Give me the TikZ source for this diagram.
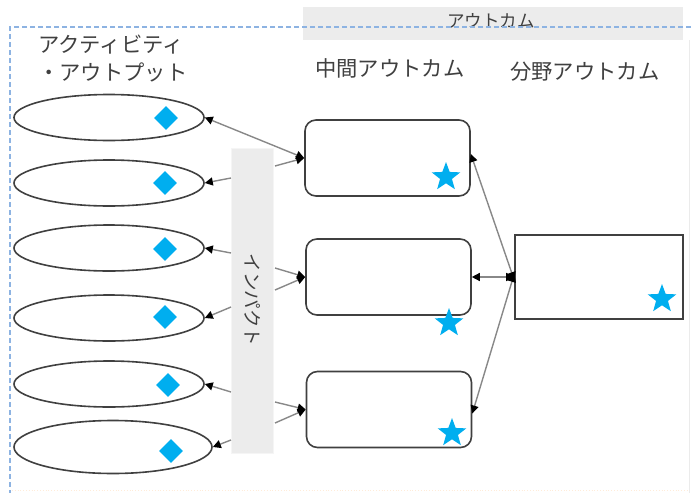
\documentclass[tikz,border=0pt]{standalone}
\usepackage{fontspec}
\newfontfamily\jp{Noto Sans CJK JP}
\usetikzlibrary{shapes.geometric,arrows.meta}
\definecolor{txt}{HTML}{404040}
\definecolor{edge}{HTML}{404040}
\definecolor{conn}{HTML}{888888}
\definecolor{cyanmark}{HTML}{00AEEF}
\definecolor{barfill}{HTML}{ECECEC}
\definecolor{dashblue}{HTML}{8DB3E2}
\tikzset{
  act/.style={ellipse, draw=edge, line width=1.6pt, minimum width=190pt, minimum height=46pt, inner sep=0pt},
  midbox/.style={rectangle, rounded corners=11pt, draw=edge, line width=1.6pt, minimum width=165pt, minimum height=76pt, inner sep=0pt},
  fieldbox/.style={rectangle, draw=edge, line width=1.6pt, minimum width=168pt, minimum height=84pt, inner sep=0pt},
  dmark/.style={diamond, fill=cyanmark, minimum width=24pt, minimum height=24pt, inner sep=0pt},
  smark/.style={star, star points=5, star point ratio=2.4, fill=cyanmark, minimum size=30pt, inner sep=0pt},
  lbl/.style={font=\jp\fontsize{21.3pt}{26pt}\selectfont, text=txt, inner sep=0pt},
  conline/.style={draw=conn, line width=1.4pt},
  tip/.style={-{Triangle[length=8pt,width=8pt,black]}},
  bitip/.style={{Triangle[length=8pt,width=8pt,black]}-{Triangle[length=8pt,width=8pt,black]}},
}
\begin{document}
\begin{tikzpicture}[x=1pt,y=-1pt]
\useasboundingbox (0,0) rectangle (691,493);
\fill[white] (0,0) rectangle (691,493);
% top outcome bar
\node[fill=barfill, minimum width=380pt, minimum height=33pt, inner sep=0pt] (topbar) at (493,23) {};
\node[font=\jp\fontsize{17.5pt}{20pt}\selectfont, text=txt, inner sep=0pt] (toplbl) at (491,21) {アウトカム};
% faint outer borders
\draw[draw=black!8, line width=0.8pt] (689,40) -- (689,493);
\draw[draw=orange!15, line width=0.8pt, dotted] (12,490) -- (689,490);
% dashed frame
\draw[draw=dashblue, line width=1.4pt, dash pattern=on 5pt off 3pt] (691,27) -- (10,27) -- (10,493);
% headings
\node[lbl, anchor=west] (h1) at (38,45) {アクティビティ};
\node[lbl, anchor=west] (h2) at (38,72) {・アウトプット};
\node[lbl, anchor=west] (h3) at (315,68) {中間アウトカム};
\node[lbl, anchor=west] (h4) at (510,72) {分野アウトカム};
% impact bar
\node[fill=barfill, draw=black!4, minimum width=42pt, minimum height=305pt, inner sep=0pt] (bar) at (252,300.5) {};
\node[font=\jp\fontsize{18.5pt}{22pt}\selectfont, text=txt, rotate=-90, inner sep=0pt] (barlbl) at (253,300) {インパクト};
% activities
\node[act] (e1) at (109,117.5) {};
\node[act] (e2) at (109,183) {};
\node[act] (e3) at (109,248) {};
\node[act] (e4) at (109,318) {};
\node[act] (e5) at (109,384) {};
\node[act, minimum width=198pt, minimum height=53pt] (e6) at (113,447) {};
\node[dmark] (d1) at (166,118) {};
\node[dmark] (d2) at (165,183) {};
\node[dmark] (d3) at (165,249) {};
\node[dmark] (d4) at (165,317) {};
\node[dmark] (d5) at (168,385) {};
\node[dmark] (d6) at (171,451) {};
% intermediate outcomes
\node[midbox] (m1) at (387.5,158) {};
\node[midbox] (m2) at (388.5,277) {};
\node[midbox] (m3) at (389,409.5) {};
\node[smark] (s1) at (446,177) {};
\node[smark] (s2) at (449,323) {};
\node[smark] (s3) at (452,433) {};
% field outcome
\node[fieldbox] (f) at (599,277) {};
\node[smark] (s4) at (662,299) {};
% connection points on the impact bar
\coordinate (bl2) at (231,178);
\coordinate (bl3) at (231,253);
\coordinate (bl4) at (231,307);
\coordinate (bl5) at (231,392);
\coordinate (bl6) at (231,440);
\coordinate (br1) at (275,166);
\coordinate (br2a) at (275,268);
\coordinate (br2b) at (275,290);
\coordinate (br3a) at (275,402);
\coordinate (br3b) at (275,423);
% connectors
\draw[conline, bitip] (e1.east) -- (m1.west);
\draw[conline, tip] (br1) -- (m1.west);
\draw[conline, tip] (bl2) -- (e2.east);
\draw[conline, tip] (bl3) -- (e3.east);
\draw[conline, tip] (br2a) -- (m2.west);
\draw[conline, tip] (br2b) -- (m2.west);
\draw[conline, tip] (bl4) -- (e4.east);
\draw[conline, tip] (bl5) -- (e5.east);
\draw[conline, tip] (bl6) -- (e6.east);
\draw[conline, tip] (br3a) -- (m3.west);
\draw[conline, tip] (br3b) -- (m3.west);
\draw[conline, bitip] ([yshift=-3pt]f.west) -- ([yshift=4pt]m1.east);
\draw[conline, bitip] (f.west) -- (m2.east);
\draw[conline, bitip] ([yshift=3pt]f.west) -- ([yshift=-4pt]m3.east);
\end{tikzpicture}
\end{document}
